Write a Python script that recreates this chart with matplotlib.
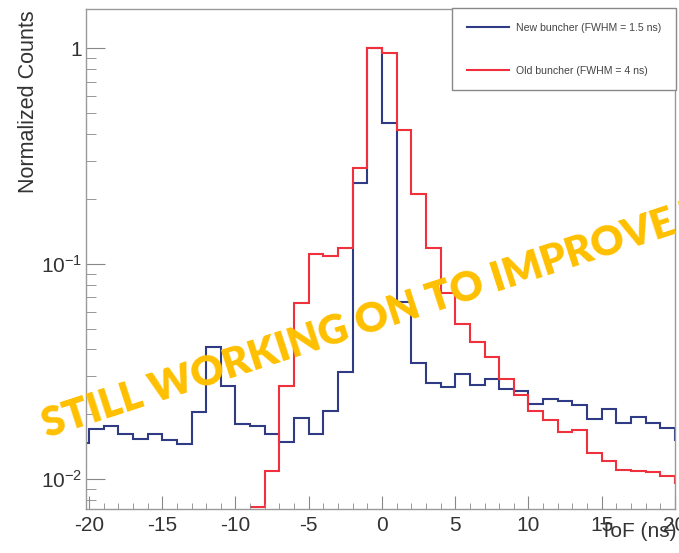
import numpy as np
import matplotlib
matplotlib.use('Agg')
import matplotlib.pyplot as plt

# bin edges (1 ns wide) and normalized counts
blue_edges = np.arange(-21, 22)
blue_counts = [0.0147, 0.0171, 0.0177, 0.0162, 0.0153, 0.0163, 0.0152, 0.0146,
               0.0205, 0.0410, 0.0272, 0.0181, 0.0176, 0.0162, 0.0149, 0.0192,
               0.0162, 0.0208, 0.0316, 0.237, 1.0, 0.452, 0.0661, 0.0348,
               0.0281, 0.0267, 0.0308, 0.0274, 0.0291, 0.0262, 0.0258, 0.0223,
               0.0235, 0.0231, 0.0221, 0.0190, 0.0211, 0.0182, 0.0195, 0.0183,
               0.0172, 0.0152]

red_edges = np.arange(-9, 22)
red_counts = [0.00745, 0.0109, 0.0271, 0.0656, 0.111, 0.109, 0.118, 0.278,
              1.0, 0.948, 0.416, 0.210, 0.118, 0.073, 0.0526, 0.0432, 0.0371,
              0.0291, 0.0245, 0.0207, 0.0188, 0.0166, 0.0169, 0.0133, 0.0122,
              0.0110, 0.0109, 0.0108, 0.0104, 0.0096]

labels = ['New buncher (FWHM = 1.5 ns)', 'Old buncher (FWHM = 4 ns)']
colors = ['#2f3b85', '#f0303c']

plt.rcParams['font.family'] = 'Liberation Sans'
plt.rcParams['mathtext.fontset'] = 'custom'
plt.rcParams['mathtext.rm'] = 'Liberation Sans'
plt.rcParams['mathtext.it'] = 'Liberation Sans'
plt.rcParams['axes.unicode_minus'] = False

fig = plt.figure(figsize=(6.79, 5.53), dpi=100)
ax = fig.add_axes([0.1267, 0.0801, 0.8674, 0.9036])

ax.stairs(blue_counts, blue_edges, baseline=None, color=colors[0], lw=1.5, label=labels[0])
ax.stairs(red_counts, red_edges, baseline=None, color=colors[1], lw=1.5, label=labels[1])

ax.set_yscale('log')
ax.set_xlim(-20.2, 20)
ax.set_ylim(0.0073, 1.52)

ax.set_xticks(np.arange(-20, 21, 5))
ax.set_xticks(np.arange(-20, 21, 1), minor=True)
ax.set_yticks([0.01, 0.1, 1], ['$10^{-2}$', '$10^{-1}$', '1'])

for s in ax.spines.values():
    s.set_color('#999999')
    s.set_linewidth(1.0)
ax.tick_params(which='both', direction='in', colors='#888888', labelcolor='#333333',
               labelsize=15, top=False, right=False)
ax.tick_params(axis='x', which='major', length=9.5, pad=5)
ax.tick_params(axis='x', which='minor', length=4.5)
ax.tick_params(axis='y', which='major', length=14, pad=3)
ax.tick_params(axis='y', which='minor', length=7)

fig.text(29 / 679, 1 - 10 / 553, 'Normalized Counts', rotation=90, ha='center', va='top',
         fontsize=15.5, color='#333333')
fig.text(677 / 679, 1 - 537 / 553, 'ToF (ns)', ha='right', va='baseline',
         fontsize=15, color='#333333')

leg = ax.legend(loc='upper right', bbox_to_anchor=(1.002, 1.002), fontsize=7.6,
                frameon=True, fancybox=False, framealpha=1, edgecolor='#888888',
                handlelength=4.0, handletextpad=0.65, labelspacing=3.1,
                borderpad=1.4, borderaxespad=0)
leg.get_frame().set_linewidth(1.0)
for t in leg.get_texts():
    t.set_color('#444444')

fig.text(47 / 679, 1 - 438 / 553, 'STILL WORKING ON TO IMPROVE THE PLOT',
         rotation=18, rotation_mode='anchor', ha='left', va='baseline',
         fontsize=29.5, fontweight='heavy', family='Lato', color='#FFC000', zorder=10)

fig.savefig('out.png', dpi=100)
